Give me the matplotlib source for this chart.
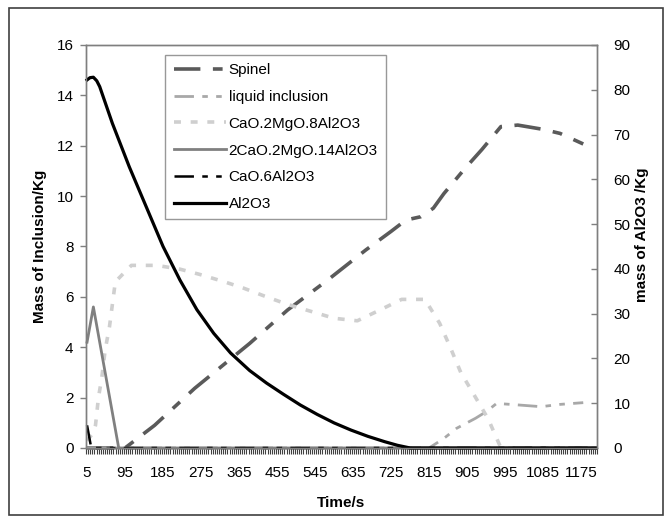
import matplotlib
matplotlib.use("Agg")
import matplotlib.pyplot as plt
import numpy as np
from matplotlib.patches import Rectangle

plt.rcParams['font.family'] = ['Liberation Sans', 'DejaVu Sans']
plt.rcParams['lines.scale_dashes'] = False

# values
spinel_t = [5, 95, 165, 260, 390, 480, 575, 665, 725, 760, 795, 825, 850, 900, 940, 985, 1025, 1085, 1125, 1180]
spinel = [0, 0, 0.9, 2.37, 4.15, 5.48, 6.67, 7.86, 8.6, 9.05, 9.18, 9.52, 10.1, 11.1, 11.85, 12.76, 12.82, 12.65, 12.49, 12.07]

liquid_t = [5, 815, 850, 880, 925, 950, 975, 1025, 1080, 1125, 1180]
liquid = [0, 0, 0.38, 0.78, 1.18, 1.44, 1.77, 1.71, 1.64, 1.73, 1.80]

cma8_t = [5, 20, 25, 32, 40, 48, 58, 65, 72, 110, 170, 225, 270, 330, 375, 430, 480, 540,
          590, 645, 695, 750, 805, 840, 865, 890, 920, 955, 985, 1210]
cma8 = [0.3, 0.6, 0.9, 2.0, 2.8, 3.9, 4.8, 5.7, 6.6, 7.25, 7.25, 7.1, 6.9, 6.6, 6.35, 6.0, 5.7, 5.4,
        5.15, 5.05, 5.45, 5.9, 5.9, 4.95, 4.0, 3.0, 2.15, 1.15, 0, 0]

c2m2a14_t = [5, 20, 80, 1210]
c2m2a14 = [4.2, 5.6, 0, 0]

ca6_t = [5, 15, 1210]
ca6 = [0.9, 0, 0]

al2o3_t = [5, 12, 20, 28, 35, 65, 105, 145, 185, 225, 265, 305, 345, 390, 430, 470, 510, 550,
           590, 630, 670, 710, 740, 770, 1210]
al2o3 = [82.2, 82.7, 82.8, 82.0, 80.7, 72.5, 62.8, 53.9, 45.0, 37.5, 30.9, 25.6, 21.2, 17.3, 14.5, 12.0, 9.6, 7.5,
         5.6, 4.0, 2.6, 1.4, 0.6, 0, 0]

xtick_vals = list(range(5, 1176, 90))

fig = plt.figure(figsize=(6.65, 5.22), dpi=100)
ax = fig.add_axes([0.1293, 0.1418, 0.7684, 0.772])
ax2 = ax.twinx()

axis_grey = '#7f7f7f'

l1, = ax.plot(spinel_t, spinel, color='#5a5a5a', lw=2.6, dashes=(19, 9, 7, 9), clip_on=False, label='Spinel')
l2, = ax.plot(liquid_t, liquid, color='#a8a8a8', lw=2.0, dashes=(14, 6, 4, 6, 4, 6), clip_on=False, label='liquid inclusion')
l3, = ax.plot(cma8_t, cma8, color='#cfcfcf', lw=2.6, dashes=(5, 7), clip_on=False, label='CaO.2MgO.8Al2O3')
l4, = ax.plot(c2m2a14_t, c2m2a14, color='#808080', lw=2.0, clip_on=False, label='2CaO.2MgO.14Al2O3')
l5, = ax.plot(ca6_t, ca6, color='black', lw=1.8, dashes=(14, 6, 4, 6, 4, 6), clip_on=False, label='CaO.6Al2O3')
l6, = ax2.plot(al2o3_t, al2o3, color='black', lw=2.3, clip_on=False, label='Al2O3')

ax.set_xlim(2.5, 1212.5)
ax.set_ylim(0, 16)
ax2.set_ylim(0, 90)
ax.set_yticks(np.arange(0, 17, 2))
ax2.set_yticks(np.arange(0, 91, 10))
ax.set_xticks(xtick_vals)
ax.set_xticklabels([str(v) for v in xtick_vals])
ax.set_xticks(np.arange(2.5, 1213, 5), minor=True)

for a in (ax, ax2):
    for s in a.spines.values():
        s.set_color(axis_grey)
        s.set_linewidth(1.0)

ax.tick_params(axis='y', direction='out', length=4, width=1, color=axis_grey, pad=5, labelsize=11)
ax.tick_params(axis='x', which='major', length=0, pad=13, labelsize=11)
ax.tick_params(axis='x', which='minor', direction='out', length=4, width=0.8, color='#404040')
ax2.tick_params(axis='y', direction='in', length=4, width=1, color=axis_grey, pad=12, labelsize=11)

ax.set_xlabel('Time/s', fontsize=11, fontweight='bold')
ax.xaxis.set_label_coords(0.5, -0.119)
ax.set_ylabel('Mass of Inclusion/Kg', fontsize=11, fontweight='bold')
ax.yaxis.set_label_coords(-0.076, 0.5)
ax2.set_ylabel('mass of Al2O3 /Kg', fontsize=11, fontweight='bold')
ax2.yaxis.set_label_coords(1.074, 0.53)

leg = ax2.legend(handles=[l1, l2, l3, l4, l5, l6], loc='upper left', bbox_to_anchor=(0.155, 0.975),
                 fontsize=11, frameon=True, fancybox=False, handlelength=3.4, handletextpad=0.2,
                 labelspacing=0.83, borderpad=0.55, borderaxespad=0)
leg.get_frame().set_edgecolor(axis_grey)
leg.get_frame().set_linewidth(1.0)

fig.patches.append(Rectangle((9 / 665, 1 - 515 / 522), 654 / 665, 507 / 522, transform=fig.transFigure,
                             fill=False, edgecolor='#404040', lw=1.2))

fig.savefig('out.png', dpi=100)
